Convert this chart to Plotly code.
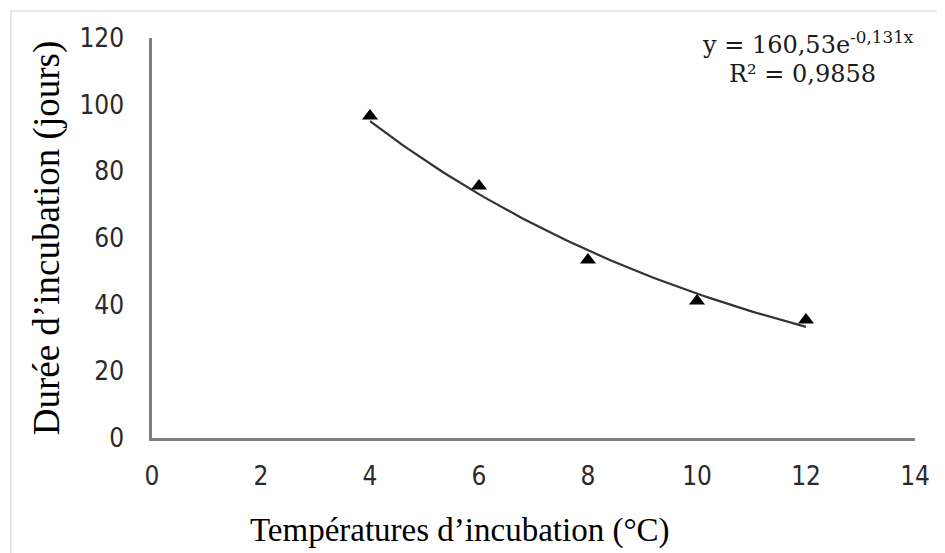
import numpy as np
import plotly.graph_objects as go

# Data
temperatures = [4, 6, 8, 10, 12]
durations = [96.6, 75.6, 53.4, 41.1, 35.4]

# Exponential trendline shown on the chart: y = 160.53 * exp(-0.131 x)
trend_a = 160.53
trend_b = -0.131
trend_x = np.linspace(4, 12, 81)
trend_y = trend_a * np.exp(trend_b * trend_x)

x_ticks = [0, 2, 4, 6, 8, 10, 12, 14]
y_ticks = [0, 20, 40, 60, 80, 100, 120]

tick_font = dict(family="Liberation Sans Narrow, DejaVu Sans Condensed, Arial Narrow, sans-serif",
                 size=26, color="#2a2a2a")
serif = "Liberation Serif, Times New Roman, serif"
eq_font = dict(family="DejaVu Serif, serif", size=24, color="#1a1a1a")

fig = go.Figure()
fig.add_trace(go.Scatter(x=trend_x, y=trend_y, mode="lines",
                         line=dict(color="#333333", width=2.2), hoverinfo="skip",
                         showlegend=False))
fig.add_trace(go.Scatter(x=temperatures, y=durations, mode="markers",
                         marker=dict(symbol="triangle-up", size=14, color="#000000"),
                         showlegend=False))

fig.update_layout(
    width=945, height=553,
    paper_bgcolor="white", plot_bgcolor="white",
    margin=dict(l=144, r=38, t=30, b=123, autoexpand=False),
    xaxis=dict(range=[0, 14], tickvals=x_ticks, showgrid=False, zeroline=False,
               showline=True, linecolor="#7f7f7f", linewidth=2.5,
               ticks="", ticklabelstandoff=13, tickfont=tick_font,
               automargin=False),
    yaxis=dict(range=[0, 120], tickvals=y_ticks, showgrid=False, zeroline=False,
               showline=True, linecolor="#7f7f7f", linewidth=2.5,
               ticks="", ticklabelstandoff=20, tickfont=tick_font,
               title=dict(text="Durée d’incubation (jours)",
                          font=dict(family=serif, size=37, color="#000000"), standoff=9),
               automargin=False),
    shapes=[dict(type="rect", xref="paper", yref="paper",
                 x0=-0.185, x1=1.08, y0=-0.35, y1=1.0675,
                 line=dict(color="#e2e2e2", width=1.5), fillcolor="rgba(0,0,0,0)",
                 layer="below")],
    annotations=[
        dict(xref="paper", yref="paper", x=0.4037, y=-0.23,
             xanchor="center", yanchor="middle", showarrow=False,
             text="Températures d’incubation (°C)",
             font=dict(family=serif, size=33, color="#000000")),
        dict(xref="paper", yref="paper", x=0.8597, y=0.9875,
             xanchor="center", yanchor="middle", showarrow=False,
             text="y = 160,53e<sup>-0,131x</sup>", font=eq_font),
        dict(xref="paper", yref="paper", x=0.8532, y=0.91,
             xanchor="center", yanchor="middle", showarrow=False,
             text="R² = 0,9858", font=eq_font),
    ],
)

fig.write_html("out.html")
